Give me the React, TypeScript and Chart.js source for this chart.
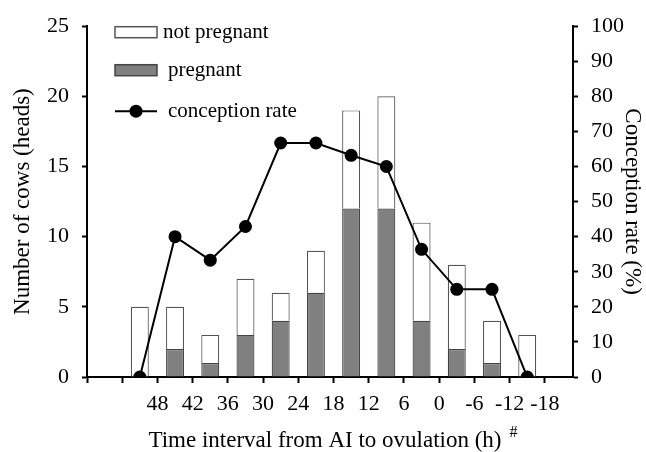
import React, { useEffect, useRef } from 'react';
import { Chart, registerables } from 'chart.js';

Chart.register(...registerables);

// Bin centres (hours from AI to ovulation) for each bar
const binCenters = [51, 45, 39, 33, 27, 21, 15, 9, 3, -3, -9, -15];
const pregnant = [0, 2, 1, 3, 4, 6, 12, 12, 4, 2, 1, 0];
const notPregnant = [5, 3, 2, 4, 2, 3, 7, 8, 7, 6, 3, 3];
const conceptionRate = [0, 40, 33.3, 42.9, 66.7, 66.7, 63.2, 60, 36.4, 25, 25, 0];
const xTickValues = [60, 54, 48, 42, 36, 30, 24, 18, 12, 6, 0, -6, -12, -18];
const xTickLabels = ['', '', '48', '42', '36', '30', '24', '18', '12', '6', '0', '-6', '-12', '-18'];

const FONT = "'Liberation Serif', 'Times New Roman', serif";
const BAR_GRAY = '#808080';

const legendAndTitlePlugin = {
  id: 'legendAndTitle',
  afterDraw(chart: any) {
    const ctx = chart.ctx as CanvasRenderingContext2D;
    const { left, right, top } = chart.chartArea;
    ctx.save();
    // Legend
    const bx = left + 28;
    const bw = 42;
    const bh = 11;
    const rows = [top + 6, top + 44, top + 85];
    ctx.font = `21px ${FONT}`;
    ctx.textBaseline = 'middle';
    ctx.fillStyle = '#000';
    // not pregnant
    ctx.fillStyle = '#fff';
    ctx.fillRect(bx, rows[0] - bh / 2, bw, bh);
    ctx.strokeStyle = '#555';
    ctx.lineWidth = 1.5;
    ctx.strokeRect(bx, rows[0] - bh / 2, bw, bh);
    ctx.fillStyle = '#000';
    ctx.fillText('not pregnant', bx + bw + 6, rows[0]);
    // pregnant
    ctx.fillStyle = BAR_GRAY;
    ctx.fillRect(bx, rows[1] - bh / 2, bw, bh);
    ctx.strokeStyle = '#444';
    ctx.strokeRect(bx, rows[1] - bh / 2, bw, bh);
    ctx.fillStyle = '#000';
    ctx.fillText('pregnant', bx + bw + 11, rows[1]);
    // conception rate
    ctx.strokeStyle = '#000';
    ctx.lineWidth = 2;
    ctx.beginPath();
    ctx.moveTo(bx, rows[2]);
    ctx.lineTo(bx + bw, rows[2]);
    ctx.stroke();
    ctx.beginPath();
    ctx.arc(bx + bw / 2, rows[2], 6.5, 0, Math.PI * 2);
    ctx.fillStyle = '#000';
    ctx.fill();
    ctx.fillText('conception rate', bx + bw + 11, rows[2]);

    // X axis title with superscript
    const main = 'Time interval from AI to ovulation (h)';
    ctx.font = `23px ${FONT}`;
    const mw = ctx.measureText(main).width;
    ctx.font = `16px ${FONT}`;
    const sw = ctx.measureText('#').width;
    const gap = 8;
    const total = mw + gap + sw;
    const cx = (left + right) / 2 + 3;
    const sx = cx - total / 2;
    ctx.textBaseline = 'alphabetic';
    ctx.textAlign = 'left';
    ctx.font = `23px ${FONT}`;
    ctx.fillText(main, sx, 447);
    ctx.font = `16px ${FONT}`;
    ctx.fillText('#', sx + mw + gap, 437);
    ctx.restore();
  },
};

export default function App() {
  const canvasRef = useRef<HTMLCanvasElement | null>(null);

  useEffect(() => {
    const canvas = canvasRef.current;
    if (!canvas) return;
    const chart = new Chart(canvas, {
      type: 'bar',
      data: {
        datasets: [
          {
            type: 'line',
            label: 'conception rate',
            data: binCenters.map((x, i) => ({ x, y: conceptionRate[i] })),
            yAxisID: 'y1',
            borderColor: '#000',
            backgroundColor: '#000',
            borderWidth: 2,
            pointRadius: 6.5,
            pointBackgroundColor: '#000',
            pointBorderWidth: 0,
            tension: 0,
            order: 0,
          } as any,
          {
            label: 'pregnant',
            data: binCenters.map((x, i) => ({ x, y: pregnant[i] })),
            yAxisID: 'y',
            backgroundColor: BAR_GRAY,
            borderColor: '#444',
            borderWidth: 1.2,
            stack: 's',
            order: 1,
          },
          {
            label: 'not pregnant',
            data: binCenters.map((x, i) => ({ x, y: notPregnant[i] })),
            yAxisID: 'y',
            backgroundColor: '#fff',
            borderColor: '#555',
            borderWidth: 1.2,
            stack: 's',
            order: 1,
          },
        ],
      },
      options: {
        animation: false,
        responsive: false,
        maintainAspectRatio: false,
        layout: { padding: { top: 22, left: 0, right: 0, bottom: 0 } },
        datasets: {
          bar: { barPercentage: 0.51, categoryPercentage: 1 },
        } as any,
        plugins: {
          legend: { display: false },
          tooltip: { enabled: false },
        },
        scales: {
          x: {
            type: 'linear',
            reverse: true,
            offset: false,
            min: -22.8,
            max: 60,
            stacked: true,
            afterBuildTicks: (scale: any) => {
              scale.ticks = xTickValues.map((v) => ({ value: v }));
            },
            afterFit: (scale: any) => {
              scale.height = 75;
            },
            ticks: {
              autoSkip: false,
              maxRotation: 0,
              padding: 8,
              color: '#000',
              font: { family: FONT, size: 22 },
              callback: (v: any) => {
                const idx = xTickValues.indexOf(Number(v));
                return idx >= 0 ? xTickLabels[idx] : '';
              },
            },
            grid: {
              display: true,
              offset: false,
              drawOnChartArea: false,
              drawTicks: true,
              tickLength: 6,
              tickColor: '#000',
              tickWidth: 2,
            },
            border: { display: true, color: '#000', width: 2 },
            title: { display: false },
          },
          y: {
            type: 'linear',
            position: 'left',
            min: 0,
            max: 25,
            stacked: true,
            afterFit: (scale: any) => {
              scale.width = 87;
            },
            ticks: {
              stepSize: 5,
              padding: 13,
              color: '#000',
              font: { family: FONT, size: 22 },
            },
            grid: {
              display: true,
              drawOnChartArea: false,
              drawTicks: true,
              tickLength: 5,
              tickColor: '#000',
              tickWidth: 2,
            },
            border: { display: true, color: '#000', width: 2 },
            title: {
              display: true,
              text: 'Number of cows (heads)',
              color: '#000',
              font: { family: FONT, size: 23 },
              padding: { top: 9, bottom: 0 },
            },
          },
          y1: {
            type: 'linear',
            position: 'right',
            min: 0,
            max: 100,
            afterFit: (scale: any) => {
              scale.width = 73;
            },
            ticks: {
              stepSize: 10,
              padding: 13,
              color: '#000',
              font: { family: FONT, size: 22 },
            },
            grid: {
              display: true,
              drawOnChartArea: false,
              drawTicks: true,
              tickLength: 5,
              tickColor: '#000',
              tickWidth: 2,
            },
            border: { display: true, color: '#000', width: 2 },
            title: {
              display: true,
              text: 'Conception rate (%)',
              color: '#000',
              font: { family: FONT, size: 23 },
              padding: { top: 0, bottom: 0 },
            },
          },
        },
      } as any,
      plugins: [legendAndTitlePlugin],
    });
    return () => chart.destroy();
  }, []);

  return (
    <div style={{ position: 'absolute', left: 0, top: 0, width: 646, height: 452, background: '#fff' }}>
      <canvas ref={canvasRef} width={646} height={452} style={{ display: 'block' }} />
    </div>
  );
}
